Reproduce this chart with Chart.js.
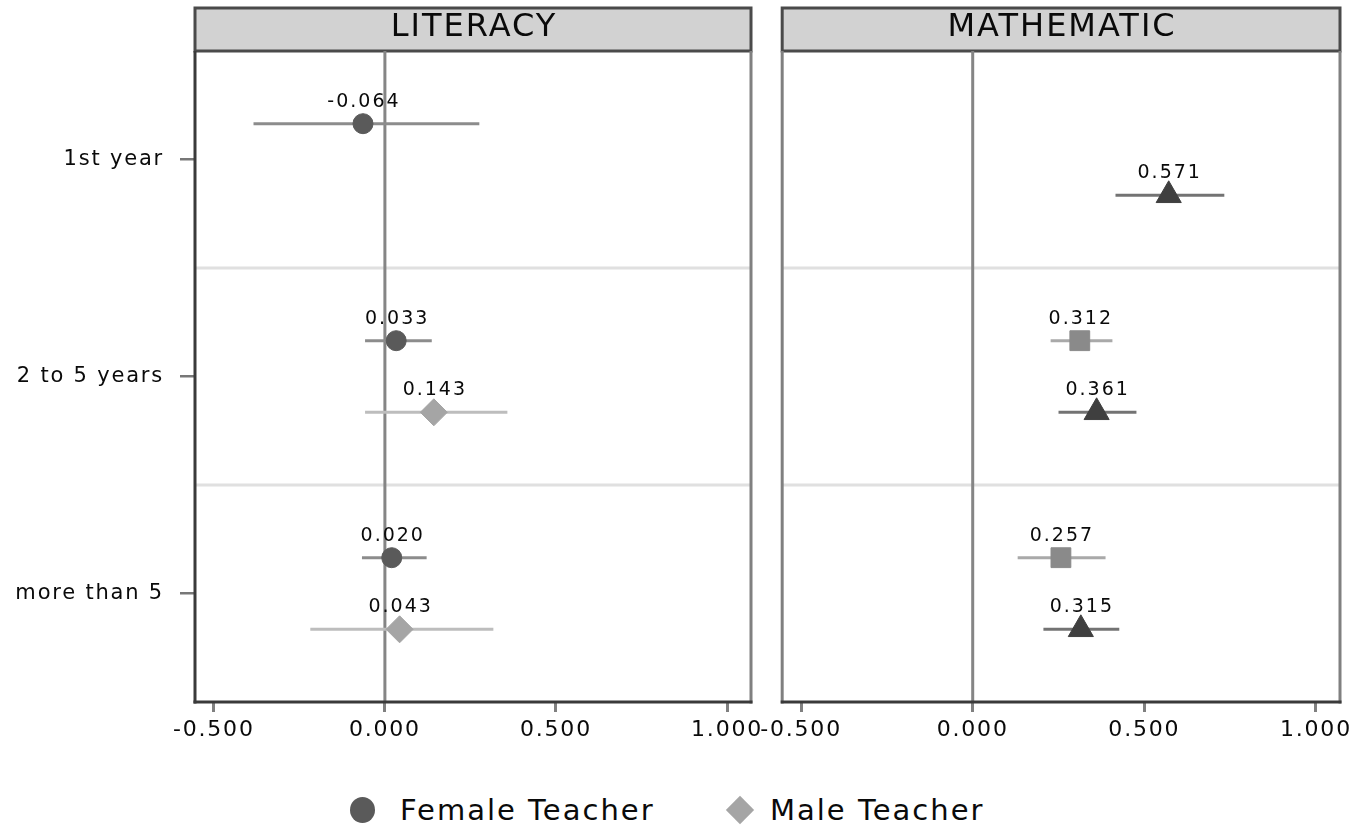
<!DOCTYPE html>
<html>
<head>
<meta charset="utf-8">
<script src="https://cdn.jsdelivr.net/npm/chart.js@4.4.1/dist/chart.umd.min.js"></script>
<style>
  html, body { margin: 0; padding: 0; background: #fff; }
  body { width: 1370px; height: 829px; position: relative; overflow: hidden; font-family: "DejaVu Sans", sans-serif; }
  .panel { position: absolute; top: 0; }
  #litBox { left: 0; }
  #mathBox { left: 760px; }
  .mk { position: absolute; }
  .dot { left: 350px; top: 797px; width: 25px; height: 26px; border-radius: 50%; background: #5a5a5a; }
  .dia { left: 730px; top: 800px; width: 20px; height: 20px; background: #a5a5a5; transform: rotate(45deg); }
  .lt { position: absolute; top: 790px; line-height: 40px; font-size: 29px; letter-spacing: 2px; color: #0a0a0a; white-space: nowrap; }
</style>
</head>
<body>
<div class="panel" id="litBox"><canvas id="lit" width="775" height="770"></canvas></div>
<div class="panel" id="mathBox"><canvas id="math" width="610" height="770"></canvas></div>
<div class="mk dot"></div><div class="lt" style="left:400px">Female Teacher</div>
<div class="mk dia"></div><div class="lt" style="left:770px">Male Teacher</div>
<script>
const categories = ["1st year", "2 to 5 years", "more than 5"];
const xTicks = [-0.5, 0, 0.5, 1.0];
const separators = [1, 2];

// literacy
const litFemale = [-0.064, 0.033, 0.020];
const litFemaleLo = [-0.384, -0.058, -0.067];
const litFemaleHi = [0.276, 0.137, 0.122];
const litMale = [null, 0.143, 0.043];
const litMaleLo = [null, -0.058, -0.218];
const litMaleHi = [null, 0.358, 0.317];

// mathematic
const mathFemale = [null, 0.312, 0.257];
const mathFemaleLo = [null, 0.227, 0.131];
const mathFemaleHi = [null, 0.407, 0.387];
const mathMale = [0.571, 0.361, 0.315];
const mathMaleLo = [0.416, 0.250, 0.206];
const mathMaleHi = [0.733, 0.477, 0.427];

function points(vals, lo, hi, shift) {
  const out = [];
  vals.forEach((v, i) => {
    if (v === null) return;
    out.push({ x: v, y: i + 0.5 + shift, lo: lo[i], hi: hi[i] });
  });
  return out;
}

function seg(ctx, x1, y1, x2, y2) {
  ctx.beginPath();
  ctx.moveTo(x1, y1);
  ctx.lineTo(x2, y2);
  ctx.stroke();
}

const panelPlugin = {
  id: 'panel',
  beforeDraw(chart, args, opts) {
    const { ctx, chartArea: a } = chart;
    ctx.save();
    ctx.fillStyle = '#d2d2d2';
    ctx.fillRect(a.left, 8, a.right - a.left, a.top - 8);
    ctx.strokeStyle = '#4a4a4a';
    ctx.lineWidth = 3;
    ctx.strokeRect(a.left, 8, a.right - a.left, a.top - 8);
    ctx.fillStyle = '#0a0a0a';
    ctx.font = '32px "DejaVu Sans"';
    ctx.textAlign = 'center';
    ctx.textBaseline = 'middle';
    ctx.letterSpacing = '2px';
    ctx.fillText(opts.title, (a.left + a.right) / 2 + 1, 28);
    ctx.restore();
    // spacing for the tick labels drawn next
    ctx.letterSpacing = '1.8px';
  },
  beforeDatasetsDraw(chart, args, opts) {
    const { ctx, chartArea: a, scales: { x, y } } = chart;
    ctx.letterSpacing = '0px';
    ctx.save();
    ctx.lineWidth = 3;
    ctx.strokeStyle = '#e0e0e0';
    separators.forEach(v => {
      const py = y.getPixelForValue(v);
      seg(ctx, a.left, py, a.right, py);
    });
    ctx.strokeStyle = '#858585';
    const zx = x.getPixelForValue(0);
    seg(ctx, zx, a.top, zx, a.bottom);
    // frame
    ctx.strokeStyle = opts.leftColor;
    seg(ctx, a.left, a.top, a.left, a.bottom + 1.5);
    ctx.strokeStyle = '#808080';
    seg(ctx, a.right, a.top, a.right, a.bottom + 1.5);
    ctx.strokeStyle = '#3a3a3a';
    seg(ctx, a.left - 1.5, a.bottom, a.right + 1.5, a.bottom);
    // error bars
    chart.data.datasets.forEach((ds, di) => {
      const meta = chart.getDatasetMeta(di);
      ctx.strokeStyle = ds.barColor;
      meta.data.forEach((pt, i) => {
        const r = ds.data[i];
        seg(ctx, x.getPixelForValue(r.lo), pt.y, x.getPixelForValue(r.hi), pt.y);
      });
    });
    ctx.restore();
  },
  afterDatasetsDraw(chart) {
    const { ctx } = chart;
    ctx.save();
    ctx.fillStyle = '#0a0a0a';
    ctx.font = '19px "DejaVu Sans"';
    ctx.textAlign = 'center';
    ctx.textBaseline = 'middle';
    ctx.letterSpacing = '2px';
    chart.data.datasets.forEach((ds, di) => {
      const meta = chart.getDatasetMeta(di);
      meta.data.forEach((pt, i) => {
        ctx.fillText(ds.data[i].x.toFixed(3), pt.x + 1, pt.y - 22);
      });
    });
    ctx.restore();
  }
};

function makeChart(id, title, datasets, showLabels, yWidth, padRight, leftColor) {
  return new Chart(document.getElementById(id), {
    type: 'scatter',
    data: { datasets: datasets },
    options: {
      responsive: false,
      animation: false,
      events: [],
      layout: { autoPadding: false, padding: { top: 51, right: padRight, bottom: 0, left: 0 } },
      plugins: {
        legend: { display: false },
        tooltip: { enabled: false },
        panel: { title: title, leftColor: leftColor }
      },
      scales: {
        x: {
          type: 'linear',
          min: -0.555,
          max: 1.07,
          afterBuildTicks: (s) => { s.ticks = xTicks.map(v => ({ value: v })); },
          afterFit: (s) => { s.height = 68; },
          ticks: {
            padding: 5,
            color: '#0a0a0a',
            font: { family: 'DejaVu Sans', size: 22 },
            maxRotation: 0,
            callback: (v) => Number(v).toFixed(3)
          },
          grid: { drawOnChartArea: false, tickLength: 10, color: '#808080', lineWidth: 3 },
          border: { display: false }
        },
        y: {
          type: 'linear',
          reverse: true,
          min: 0,
          max: 3,
          afterBuildTicks: (s) => { s.ticks = categories.map((c, i) => ({ value: i + 0.5 })); },
          afterFit: (s) => { s.width = yWidth; },
          ticks: {
            display: showLabels,
            padding: 16,
            color: '#0a0a0a',
            font: { family: 'DejaVu Sans', size: 21 },
            callback: (v, i) => categories[i]
          },
          grid: { display: showLabels, drawOnChartArea: false, tickLength: 15, color: '#777', lineWidth: 2.5 },
          border: { display: false }
        }
      }
    },
    plugins: [panelPlugin]
  });
}

makeChart('lit', 'LITERACY', [
  {
    label: 'Female Teacher',
    data: points(litFemale, litFemaleLo, litFemaleHi, -0.165),
    pointStyle: 'circle', pointRadius: 10,
    backgroundColor: '#5a5a5a', borderColor: '#5a5a5a', borderWidth: 1,
    barColor: '#8c8c8c'
  },
  {
    label: 'Male Teacher',
    data: points(litMale, litMaleLo, litMaleHi, 0.165),
    pointStyle: 'rectRot', pointRadius: 13.5,
    backgroundColor: '#a5a5a5', borderColor: '#a5a5a5', borderWidth: 1,
    barColor: '#bdbdbd'
  }
], true, 195, 24, '#3a3a3a');

makeChart('math', 'MATHEMATIC', [
  {
    label: 'Female Teacher',
    data: points(mathFemale, mathFemaleLo, mathFemaleHi, -0.165),
    pointStyle: 'rect', pointRadius: 14,
    backgroundColor: '#8a8a8a', borderColor: '#8a8a8a', borderWidth: 1,
    barColor: '#a9a9a9'
  },
  {
    label: 'Male Teacher',
    data: points(mathMale, mathMaleLo, mathMaleHi, 0.165),
    pointStyle: 'triangle', pointRadius: 14.5,
    backgroundColor: '#3f3f3f', borderColor: '#3f3f3f', borderWidth: 1,
    barColor: '#737373'
  }
], false, 18, 30, '#808080');
</script>
</body>
</html>
